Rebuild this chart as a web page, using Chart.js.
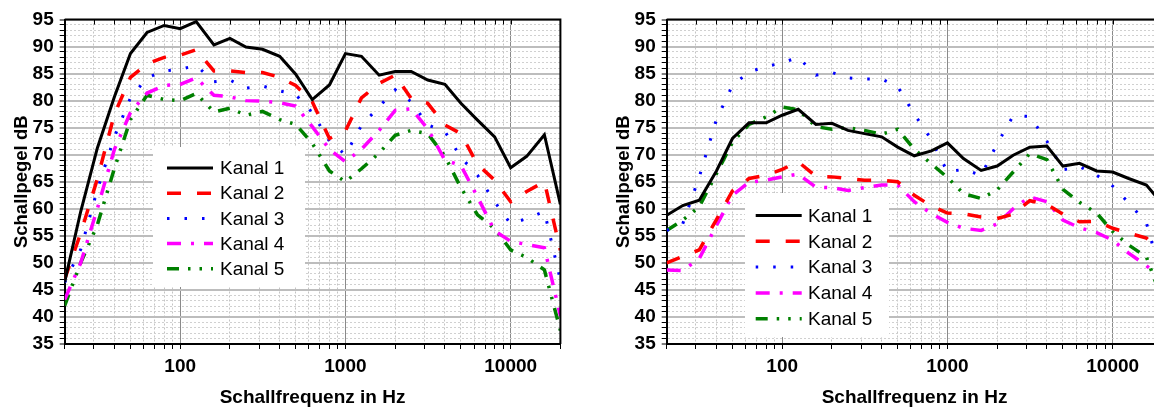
<!DOCTYPE html>
<html>
<head>
<meta charset="utf-8">
<script src="https://cdn.jsdelivr.net/npm/chart.js@4.4.0/dist/chart.umd.min.js"></script>
<style>
html, body { margin:0; padding:0; background:#fff; overflow:hidden; width:1154px; height:409px; }
canvas { position:absolute; top:0; }
</style>
</head>
<body>
<canvas id="left" width="577" height="409" style="left:0px"></canvas>
<canvas id="right" width="577" height="409" style="left:602px"></canvas>
<script>
// third-octave band centre frequencies (Hz)
const freqs = [20,25,31.5,40,50,63,80,100,125,160,200,250,315,400,500,630,800,1000,1250,1600,2000,2500,3150,4000,5000,6300,8000,10000,12500,16000,20000];
const xGridTicks = [20,30,40,50,60,70,80,90,100,200,300,400,500,600,700,800,900,1000,2000,3000,4000,5000,6000,7000,8000,9000,10000,20000];
const xLabelTicks = [100,1000,10000];
const yMin = 35, yMax = 95;
const names = ['Kanal 1','Kanal 2','Kanal 3','Kanal 4','Kanal 5'];

// left panel
const leftK1 = [46.5,59.5,71.2,80.7,88.7,92.6,93.9,93.3,94.6,90.3,91.5,89.9,89.5,88.2,84.9,80.2,82.9,88.7,88.2,84.7,85.4,85.4,83.8,83.0,79.5,76.4,73.3,67.6,69.7,73.7,60.8];
const leftK2 = [47.0,55.5,65.5,77.5,84.3,86.8,88.0,88.4,89.4,85.5,85.5,85.2,85.2,84.3,82.8,79.8,73.0,74.4,80.5,83.2,84.7,80.4,79.5,75.5,73.9,68.2,65.3,61.3,63.2,65.0,52.3];
const leftK3 = [46.4,52.5,63.5,73.3,80.5,84.2,85.5,85.8,86.5,83.5,83.8,82.3,82.7,81.8,81.1,77.8,72.5,70.0,75.4,78.9,82.0,79.8,75.5,74.3,69.5,66.2,61.3,57.2,58.2,59.5,46.8];
const leftK4 = [43.2,50.0,60.0,71.0,77.8,81.4,82.8,83.0,84.2,81.0,80.7,80.0,79.9,79.6,79.0,75.2,71.0,68.7,71.0,74.5,78.2,78.5,74.8,69.0,68.0,62.2,55.9,54.0,53.4,52.8,40.2];
const leftK5 = [42.1,50.0,57.0,67.5,76.5,81.0,80.2,80.0,81.3,77.9,78.6,77.3,78.0,76.5,75.6,72.1,67.0,65.0,67.4,70.3,73.6,74.5,73.9,69.7,63.9,58.9,56.3,52.4,51.0,48.7,37.5];

// right panel
const rightK1 = [58.8,60.6,61.6,67.0,73.0,75.9,75.9,77.3,78.4,75.6,75.8,74.5,73.9,73.3,71.4,69.8,70.7,72.2,69.3,67.1,67.9,69.9,71.4,71.6,67.9,68.4,67.0,66.8,65.6,64.4,60.9];
const rightK2 = [50.0,51.2,52.4,58.0,63.3,65.6,66.2,67.3,68.7,66.0,65.9,65.6,65.3,65.3,65.0,62.5,60.5,59.2,59.1,58.5,58.2,59.0,61.5,60.8,59.0,57.6,57.7,56.4,55.5,54.6,51.5];
const rightK3 = [56.0,57.2,65.9,76.5,82.8,85.3,86.3,87.0,88.0,84.7,85.2,84.2,84.0,84.0,82.6,77.5,72.8,66.8,67.3,66.2,72.0,77.2,77.1,72.5,67.2,67.8,66.2,64.2,61.1,57.4,46.8];
const rightK4 = [48.7,48.6,50.8,56.9,62.5,64.9,65.3,65.9,66.4,64.0,63.9,63.4,63.9,64.4,64.4,61.3,59.1,57.5,56.4,56.0,57.2,60.0,62.2,61.3,57.9,56.5,55.6,54.2,51.8,49.5,46.8];
const rightK5 = [56.0,57.9,60.4,66.5,72.3,75.6,77.0,78.8,78.3,75.2,74.7,75.0,74.5,73.8,74.7,71.0,68.3,65.8,62.8,61.9,63.5,66.8,70.2,69.1,63.6,61.2,59.2,55.8,53.3,51.1,43.0];

const lineStyles = [
  { color:'#000000', width:3,   dash:[] },
  { color:'#ff0000', width:3.5, dash:[14,16] },
  { color:'#0000ff', width:3,   dash:[2.5,15] },
  { color:'#ff00ff', width:3.5, dash:[14,10,3,10] },
  { color:'#008000', width:3.5, dash:[12,9,2.5,9,2.5,9] }
];

const FONT = '"Liberation Sans", Arial, sans-serif';

const framePlugin = {
  id: 'frame',
  afterDatasetsDraw(chart) {
    const ctx = chart.ctx, a = chart.chartArea, xs = chart.scales.x;
    ctx.save();
    ctx.strokeStyle = '#000';
    ctx.lineWidth = 2;
    ctx.beginPath();
    ctx.moveTo(a.left, a.top); ctx.lineTo(a.right, a.top); ctx.lineTo(a.right, a.bottom);
    ctx.stroke();
    ctx.lineWidth = 1;
    ctx.beginPath();
    xs.ticks.forEach(t => {
      const px = Math.round(xs.getPixelForValue(t.value)) + 0.5;
      ctx.moveTo(px, a.top); ctx.lineTo(px, a.top + 5);
    });
    ctx.stroke();
    ctx.restore();
  }
};

const boxLegend = {
  id: 'boxLegend',
  afterDatasetsDraw(chart, args, opts) {
    const ctx = chart.ctx;
    ctx.save();
    ctx.fillStyle = '#fff';
    ctx.fillRect(opts.x, opts.y, opts.w, opts.h);
    ctx.font = '19px ' + FONT;
    ctx.textBaseline = 'middle';
    chart.data.datasets.forEach((ds, i) => {
      const y = opts.row0 + i * opts.rowGap;
      ctx.strokeStyle = ds.borderColor;
      ctx.lineWidth = ds.borderWidth;
      ctx.setLineDash(ds.borderDash);
      ctx.lineCap = 'butt';
      ctx.beginPath();
      ctx.moveTo(opts.line0, y); ctx.lineTo(opts.line1, y);
      ctx.stroke();
      ctx.setLineDash([]);
      ctx.fillStyle = '#000';
      ctx.fillText(ds.label, opts.textX, y + 1);
    });
    ctx.restore();
  }
};

const makeChart = (id, series, legendOpts) => {
  const datasets = series.map((vals, i) => ({
    label: names[i],
    data: freqs.map((f, j) => ({ x: f, y: vals[j] })),
    borderColor: lineStyles[i].color,
    borderWidth: lineStyles[i].width,
    borderDash: lineStyles[i].dash,
    borderCapStyle: 'butt',
    pointRadius: 0,
    tension: 0,
    fill: false
  }));
  return new Chart(document.getElementById(id), {
    type: 'line',
    data: { datasets: datasets },
    options: {
      responsive: false,
      animation: false,
      layout: { padding: { top: 19.5, right: 16.6, left: 0, bottom: 0 } },
      plugins: { legend: { display: false }, tooltip: { enabled: false }, boxLegend: legendOpts },
      scales: {
        x: {
          type: 'logarithmic',
          min: 20, max: 20000,
          afterBuildTicks: s => { s.ticks = xGridTicks.map(v => ({ value: v })); },
          afterFit: s => { s.height = 65; },
          ticks: {
            autoSkip: false, maxRotation: 0, padding: 6, color: '#000',
            font: { family: FONT, size: 19, weight: 'bold' },
            callback: v => xLabelTicks.includes(v) ? String(v) : ''
          },
          grid: {
            color: c => (c.tick && xLabelTicks.includes(c.tick.value)) ? '#8a8a8a' : '#c4c4c4',
            lineWidth: 1,
            tickColor: '#000', tickLength: 5, tickWidth: 1
          },
          border: { display: true, color: '#000', width: 2,
            dash: c => (c.tick && xLabelTicks.includes(c.tick.value)) ? [] : [2, 2] },
          title: { display: true, text: 'Schallfrequenz in Hz', color: '#000',
            font: { family: FONT, size: 19, weight: 'bold' }, padding: { top: 0, bottom: 0 } }
        },
        y: {
          min: yMin, max: yMax,
          afterFit: s => { s.width = 64.7; },
          ticks: {
            stepSize: 1, autoSkip: false, padding: 6, color: '#000',
            font: { family: FONT, size: 19, weight: 'bold' },
            callback: v => (v % 5 === 0) ? String(v) : ''
          },
          grid: {
            color: c => (c.tick && c.tick.value % 5 === 0) ? '#bdbdbd' : '#d0d0d0',
            lineWidth: c => (c.tick && c.tick.value % 5 === 0) ? 2 : 1,
            tickColor: '#000', tickLength: 5, tickWidth: 1
          },
          border: { display: true, color: '#000', width: 2,
            dash: c => (c.tick && c.tick.value % 5 === 0) ? [] : [2, 2] },
          title: { display: true, text: 'Schallpegel dB', color: '#000',
            font: { family: FONT, size: 18.5, weight: 'bold' }, padding: { top: 11, bottom: 0 } }
        }
      }
    },
    plugins: [framePlugin, boxLegend]
  });
};

makeChart('left', [leftK1, leftK2, leftK3, leftK4, leftK5],
  { x: 153, y: 147, w: 152, h: 140, row0: 168, rowGap: 25.2, line0: 167, line1: 213, textX: 220 });
makeChart('right', [rightK1, rightK2, rightK3, rightK4, rightK5],
  { x: 143, y: 193, w: 144, h: 144, row0: 215.5, rowGap: 25.8, line0: 153.7, line1: 199.7, textX: 206 });
</script>
</body>
</html>
